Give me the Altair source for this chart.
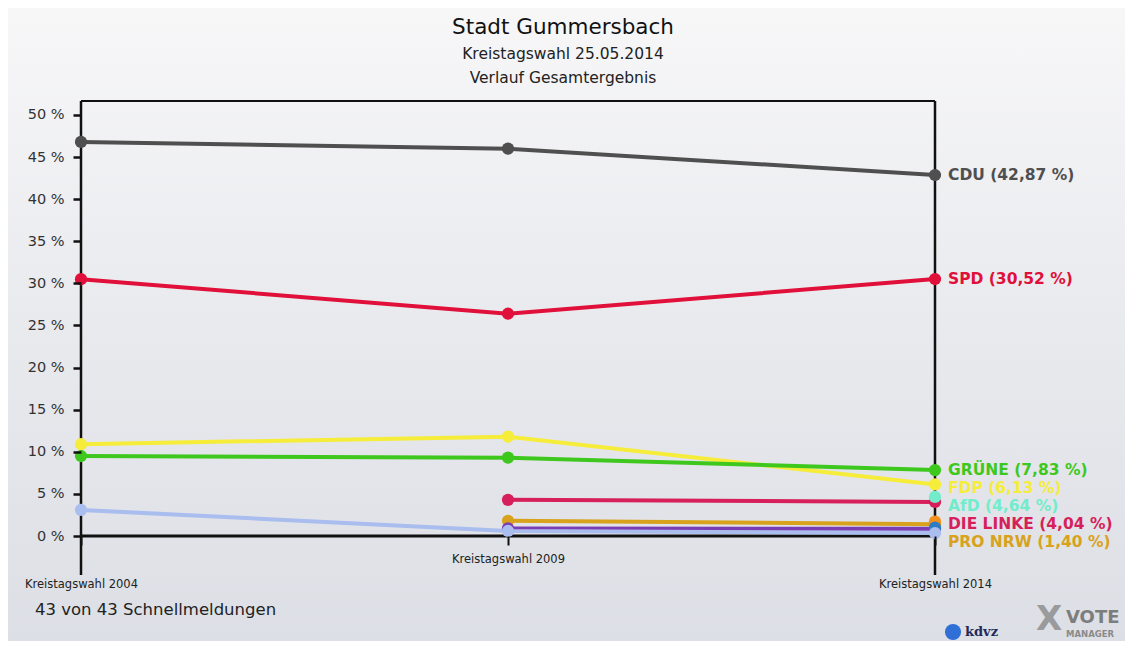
import altair as alt
import pandas as pd

# ---------------- data ----------------
years = [2004, 2009, 2014]
x_label_prefix = "Kreistagswahl "
y_ticks = [0, 5, 10, 15, 20, 25, 30, 35, 40, 45, 50]

parties = ["CDU", "SPD", "FDP", "GRÜNE", "DIE LINKE", "AfD", "PRO NRW",
           "Sonstige 1", "Sonstige 2", "Sonstige 3", "Sonstige 4"]
cdu = [46.8, 46.0, 42.87]
spd = [30.5, 26.4, 30.52]
fdp = [10.9, 11.8, 6.13]
gruene = [9.5, 9.3, 7.83]
linke = [None, 4.3, 4.04]
afd = [None, None, 4.64]
pro_nrw = [None, 1.8, 1.40]
sonstige1 = [None, None, 1.7]
sonstige2 = [None, 0.9, 0.85]
sonstige3 = [None, None, 1.0]
sonstige4 = [3.1, 0.6, 0.35]
series_values = [cdu, spd, fdp, gruene, linke, afd, pro_nrw,
                 sonstige1, sonstige2, sonstige3, sonstige4]
colors = ["#4f4f4f", "#e0103a", "#f6ec3a", "#3ec81e", "#d61f5b", "#72eccb",
          "#d8a21c", "#f3901b", "#7a3db4", "#2d7cc4", "#a9bdee"]
labelled = ["CDU", "SPD", "GRÜNE", "FDP", "AfD", "DIE LINKE", "PRO NRW"]

footer_text = "43 von 43 Schnellmeldungen"

# ---------------- layout constants ----------------
W, H = 854, 474
PAD_L, PAD_T, PAD_R, PAD_B = 73, 93, 190, 66
Y_MIN, Y_MAX = -4.63, 51.66
LABEL_GAP = 2.14
FONT = "DejaVu Sans"

rows = []
rank = 0
for name, vals in zip(parties, series_values):
    for yr, v in zip(years, vals):
        if v is not None:
            rows.append({"Jahr": yr, "Wert": v, "Partei": name, "rank": rank})
            rank += 1
df = pd.DataFrame(rows)

# labels at last election, de-overlapped from top to bottom
last = {n: vals[-1] for n, vals in zip(parties, series_values)}
lab_sorted = sorted(labelled, key=lambda n: -last[n])
lab_rows = []
prev = None
for n in lab_sorted:
    v = last[n]
    p = v if prev is None else min(v, prev - LABEL_GAP)
    prev = p
    txt = f"{n} ({v:.2f} %)".replace(".", ",")
    lab_rows.append({"Jahr": years[-1], "pos": p, "Partei": n, "txt": txt})
lab_df = pd.DataFrame(lab_rows)

x_scale = alt.Scale(domain=[years[0], years[-1]], nice=False, zero=False)
y_scale = alt.Scale(domain=[Y_MIN, Y_MAX], nice=False, zero=False)
c_scale = alt.Scale(domain=parties, range=colors)

one = alt.Data(values=[{}])

bg = alt.Chart(one).mark_rect(
    color=alt.Gradient(
        gradient="linear",
        stops=[alt.GradientStop(color="#f7f7f8", offset=0),
               alt.GradientStop(color="#e9eaee", offset=0.5),
               alt.GradientStop(color="#dcdfe5", offset=1)],
        x1=0, x2=0, y1=0, y2=1)
).encode(x=alt.value(-PAD_L), x2=alt.value(W + PAD_R),
         y=alt.value(-PAD_T), y2=alt.value(H + PAD_B))

frame_v = alt.Chart(pd.DataFrame({"Jahr": [years[0], years[-1]]})).mark_rule(
    color="#111", strokeWidth=2.5
).encode(x=alt.X("Jahr:Q", scale=x_scale, axis=None))

frame_top = alt.Chart(pd.DataFrame({"v": [Y_MAX]})).mark_rule(
    color="#111", strokeWidth=2
).encode(y=alt.Y("v:Q", scale=y_scale, axis=None))

baseline = alt.Chart(pd.DataFrame({"v": [0]})).mark_rule(
    color="#111", strokeWidth=3
).encode(y=alt.Y("v:Q", scale=y_scale, axis=None))

x_offset = -H * (0 - Y_MIN) / (Y_MAX - Y_MIN)

lines = alt.Chart(df).mark_line(strokeWidth=4, strokeCap="round").encode(
    x=alt.X("Jahr:Q", scale=x_scale,
            axis=alt.Axis(orient="bottom", offset=x_offset, values=years,
                          labelExpr="datum.value == 2009 ? ['" + x_label_prefix + "' + datum.value] : ['', '" + x_label_prefix + "' + datum.value]",
                          domain=False, tickSize=9, tickWidth=2, tickColor="#111",
                          labelFlush=False, labelOverlap=False, labelPadding=8,
                          labelLineHeight=25, labelFontSize=11.5, labelFont=FONT,
                          labelColor="#222", title=None, grid=False, zindex=1)),
    y=alt.Y("Wert:Q", scale=y_scale,
            axis=alt.Axis(orient="left", values=y_ticks,
                          labelExpr="datum.value + ' %'", domain=False,
                          tickSize=8, tickWidth=2.5, tickColor="#111",
                          labelFontSize=14.5, labelFont=FONT, labelPadding=9,
                          labelColor="#333", title=None, grid=False, zindex=1)),
    color=alt.Color("Partei:N", scale=c_scale, legend=None),
    order=alt.Order("Jahr:Q"),
)

points = alt.Chart(df).mark_circle(size=150, opacity=1).encode(
    x=alt.X("Jahr:Q", scale=x_scale, axis=None),
    y=alt.Y("Wert:Q", scale=y_scale, axis=None),
    color=alt.Color("Partei:N", scale=c_scale, legend=None),
    order=alt.Order("rank:Q"),
)

labels = alt.Chart(lab_df).mark_text(
    align="left", baseline="middle", dx=13, font=FONT, fontSize=15.5,
    fontWeight="bold"
).encode(
    x=alt.X("Jahr:Q", scale=x_scale, axis=None),
    y=alt.Y("pos:Q", scale=y_scale, axis=None),
    text="txt:N",
    color=alt.Color("Partei:N", scale=c_scale, legend=None),
)

footer = alt.Chart(one).mark_text(
    align="left", baseline="middle", font=FONT, fontSize=16.5, color="#222",
    text=footer_text
).encode(x=alt.value(-46), y=alt.value(509))

logo_ball = alt.Chart(one).mark_circle(size=260, color="#2f6fd6", opacity=1).encode(
    x=alt.value(872), y=alt.value(531))
logo_kdvz = alt.Chart(one).mark_text(
    align="left", baseline="middle", font="DejaVu Serif", fontSize=13,
    fontWeight="bold", color="#1f2a5a", text="kdvz"
).encode(x=alt.value(884), y=alt.value(531))
logo_x = alt.Chart(one).mark_text(
    align="center", baseline="middle", font=FONT, fontSize=34,
    fontWeight="bold", color="#8a8a8a", opacity=0.8, text="X"
).encode(x=alt.value(968), y=alt.value(519))
logo_vote = alt.Chart(one).mark_text(
    align="left", baseline="middle", font=FONT, fontSize=18,
    fontWeight="bold", color="#7d7d7d", text="VOTE"
).encode(x=alt.value(985), y=alt.value(517))
logo_mgr = alt.Chart(one).mark_text(
    align="left", baseline="middle", font=FONT, fontSize=8.5,
    fontWeight="bold", color="#8a8a8a", text="MANAGER"
).encode(x=alt.value(985), y=alt.value(533))

chart = alt.layer(
    bg, frame_v, frame_top, baseline, lines, points, labels, footer,
    logo_ball, logo_kdvz, logo_x, logo_vote, logo_mgr
).resolve_axis(x="independent", y="independent").properties(
    width=W, height=H,
    autosize=alt.AutoSizeParams(type="none"),
    padding={"left": PAD_L, "top": PAD_T, "right": PAD_R, "bottom": PAD_B},
    title=alt.TitleParams(
        text="Stadt Gummersbach",
        subtitle=["Kreistagswahl 25.05.2014", "Verlauf Gesamtergebnis"],
        anchor="middle", frame="group", dx=55, font=FONT, fontSize=21.5,
        fontWeight="normal", color="#111", subtitleFont=FONT,
        subtitleFontSize=15.5, subtitleColor="#222", subtitlePadding=8,
        subtitleLineHeight=24, offset=-78),
).configure_view(stroke=None).configure(background="#eceef1")

chart.save("out.html", embed_options={"renderer": "svg", "actions": False})
